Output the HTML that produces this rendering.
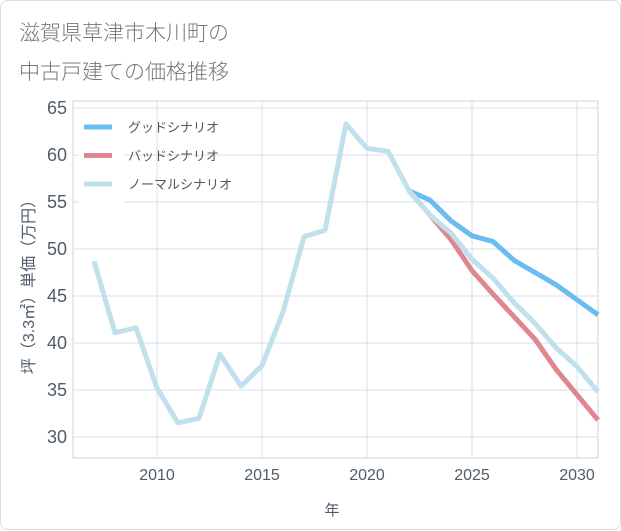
<!DOCTYPE html>
<html><head><meta charset="utf-8"><style>
body{margin:0;background:#fff;font-family:"Liberation Sans","Noto Sans CJK JP",sans-serif;}
#card{position:absolute;left:0;top:0;width:619px;height:528px;border:1px solid #ddd;border-radius:8px;background:#fff;}
</style></head><body>
<div id="card">
<svg width="621" height="530" style="position:absolute;left:0;top:0" id="svg">
<text x="18" y="39" font-size="21" fill="#777" font-weight="300">滋賀県草津市木川町の</text>
<text x="18" y="78" font-size="21" fill="#777" font-weight="300">中古戸建ての価格推移</text>
<g id="grid"></g><g id="lines"></g>
<text x="331" y="514" font-size="15" fill="#4f5d6b" text-anchor="middle">年</text>
<text transform="translate(33,282) rotate(-90)" font-size="16" fill="#4f5d6b" text-anchor="middle">坪（3.3㎡）単価（万円）</text>
<g id="legend">
<rect x="78" y="110" width="45" height="96" fill="#fff"/>
</g>
</svg></div>
<script>
const years=[2007,2008,2009,2010,2011,2012,2013,2014,2015,2016,2017,2018,2019,2020,2021,2022,2023,2024,2025,2026,2027,2028,2029,2030,2031];
const normal=[48.7,41.1,41.6,35.2,31.5,32.0,38.8,35.4,37.6,43.3,51.3,52.0,63.3,60.7,60.4,56.2,53.6,51.7,48.9,46.9,44.3,42.1,39.5,37.5,34.8];
const goodYears=[2022,2023,2024,2025,2026,2027,2028,2029,2030,2031];
const good=[56.2,55.2,53.0,51.4,50.8,48.8,47.5,46.2,44.6,43.0];
const bad=[56.2,53.6,51.0,47.7,45.2,42.8,40.4,37.2,34.5,31.8];
const yTicks=[30,35,40,45,50,55,60,65];
const xTicks=[2010,2015,2020,2025,2030];
const X=y=>156+(y-2010)*21, Y=v=>107+(65-v)*9.4;
const NS='http://www.w3.org/2000/svg';
const svg=document.getElementById('svg'),grid=document.getElementById('grid'),lines=document.getElementById('lines');
function mk(t,a,p){const e=document.createElementNS(NS,t);for(const k in a)e.setAttribute(k,a[k]);p.appendChild(e);return e;}
mk('rect',{x:72,y:100,width:525,height:357,fill:'none',stroke:'#c8d4de'},grid);
yTicks.forEach(v=>{const l=mk('line',{x1:72,x2:597,y1:Y(v),y2:Y(v),stroke:'#d4e0ea'},grid);

const t=mk('text',{x:66,y:Y(v)+6,'font-size':18,fill:'#4f5d6b','text-anchor':'end'},grid);t.textContent=v;
});
xTicks.forEach(v=>{const l=mk('line',{x1:X(v),x2:X(v),y1:100,y2:457,stroke:'#d4e0ea'},grid);

const t=mk('text',{x:X(v),y:479,'font-size':16,fill:'#4f5d6b','text-anchor':'middle'},grid);t.textContent=v;
});
function line(xs,vs,c,n){const p=mk('polyline',{points:xs.map((y,i)=>X(y)+','+Y(vs[i])).join(' '),fill:'none',stroke:c,'stroke-width':5,'stroke-linejoin':'round'},lines);
}
line(goodYears,good,'#6bbcf0','good-scenario-line');
line(goodYears,bad,'#e0868f','bad-scenario-line');
line(years,normal,'#c0e0ec','normal-scenario-line');
const lg=document.getElementById('legend');
[['グッドシナリオ','#6bbcf0'],['バッドシナリオ','#e0868f'],['ノーマルシナリオ','#c0e0ec']].forEach((d,i)=>{
const y=126+i*28.5;
const r=mk('line',{x1:83,x2:111,y1:y,y2:y,stroke:d[1],'stroke-width':5},lg);

const t=mk('text',{x:127,y:y+5,'font-size':13,fill:'#555'},lg);t.textContent=d[0];
});
</script>
</body></html>
